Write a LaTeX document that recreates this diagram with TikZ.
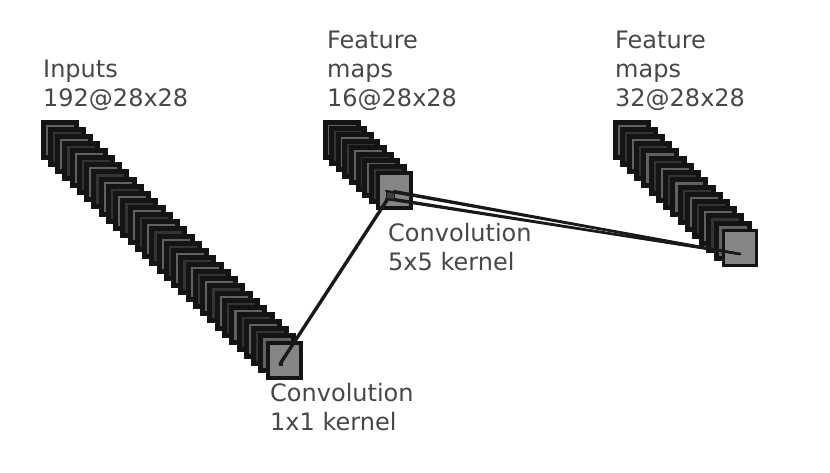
\documentclass[tikz,border=0pt]{standalone}
\usepackage{fontspec}
\setmainfont{DejaVu Sans}
\tikzset{
  fmap/.style={draw=black!92, line width=5pt, line join=miter},
  lastmap/.style={draw=black!92, line width=3.5pt, fill=black!48},
  lbl/.style={anchor=base west, align=left, inner sep=0pt, text=black!72,
              font=\fontsize{24}{29}\selectfont},
  conn/.style={draw=black!90, line width=3.4pt, line cap=round},
  wedge/.style={draw=black!90, line width=2.2pt, line cap=round},
  kern/.style={fill=black!75, draw=black!90, line width=1pt},
}
\newcommand{\mystack}[5]{%
  \pgfmathtruncatemacro{\nlast}{#5-2}
  \foreach \k in {0,...,\nlast}{
    \pgfmathsetmacro{\xx}{#1+#3*\k}
    \pgfmathsetmacro{\yy}{#2+#4*\k}
    \ifodd\k\def\sh{80}\else\def\sh{62}\fi
    \filldraw[fmap, fill=black!\sh] (\xx,\yy) rectangle ++(33,35);
  }
  \pgfmathsetmacro{\xx}{#1+#3*(#5-1)}
  \pgfmathsetmacro{\yy}{#2+#4*(#5-1)}
  \filldraw[lastmap] (\xx,\yy) rectangle ++(33,35);
}
\begin{document}
\begin{tikzpicture}[x=1pt,y=-1pt]
\useasboundingbox (0,0) rectangle (830,472);

% stacks of feature maps
\mystack{43}{122}{7.26}{7.13}{32}
\mystack{325}{122}{6.6}{6.4}{9}
\mystack{615}{122}{7.23}{7.23}{16}

% labels (anchored at the baseline of their last line)
\node[lbl] (tin) at (43,106) {Inputs\\192@28x28};
\node[lbl] (tf1) at (327,106) {Feature\\maps\\16@28x28};
\node[lbl] (tf2) at (615,106) {Feature\\maps\\32@28x28};
\node[lbl] (tc1) at (270,430) {Convolution\\1x1 kernel};
\node[lbl] (tc2) at (388,270) {Convolution\\5x5 kernel};

% kernel patches and mappings
\coordinate (k1) at (280,364);
\coordinate (e1) at (389,197);
\filldraw[kern] (279,362) rectangle (282,365);
\draw[conn] (k1) -- (e1);

\coordinate (ka) at (386,191);
\coordinate (kb) at (394,191);
\coordinate (kc) at (386,199);
\coordinate (kd) at (394,199);
\coordinate (e2) at (740,254);
\filldraw[kern] (ka) rectangle (kd);
\draw[wedge] (ka) -- (e2);
\draw[wedge] (kb) -- (e2);
\draw[wedge] (kc) -- (e2);
\draw[wedge] (kd) -- (e2);
\end{tikzpicture}
\end{document}
